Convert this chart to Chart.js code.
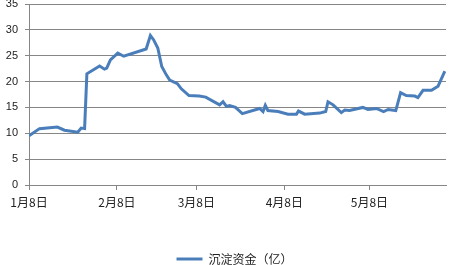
<!DOCTYPE html>
<html>
<head>
<meta charset="utf-8">
<script src="https://cdn.jsdelivr.net/npm/chart.js@4"></script>
<style>
html,body{margin:0;padding:0;background:#fff;}
#wrap{width:463px;height:265px;position:relative;}
</style>
</head>
<body>
<div id="wrap"><canvas id="c"></canvas></div>
<script>
// Day offsets from Jan 8 and values (亿)
const days = [0,3.7,10,12.5,17.2,18.4,19.6,20.4,24.9,26.6,27.4,28.7,31.3,33.4,41.3,42.8,43.9,45.4,46.8,48.4,49.6,52.3,53.7,56.4,60,62.3,67.2,68.4,69.6,70.7,72.8,75.2,81.3,82.5,83.3,84.2,87.8,91.3,94.3,95,97.2,102.5,104.6,105.4,107.2,110.1,111.3,113,117.7,119.5,122.5,125,126.6,129.3,131,133,136,137.1,138.9,141.9,144.2,146.6];
const values = [9.5,10.9,11.2,10.6,10.2,11.0,10.9,21.5,23.0,22.4,22.6,24.2,25.5,24.9,26.3,28.9,28.1,26.5,22.9,21.3,20.3,19.6,18.6,17.3,17.2,17.0,15.5,16.1,15.2,15.35,15.0,13.8,14.8,14.2,15.4,14.4,14.2,13.7,13.7,14.3,13.7,13.9,14.2,16.1,15.5,14.0,14.5,14.4,15.0,14.6,14.8,14.2,14.6,14.4,17.85,17.3,17.2,16.9,18.3,18.3,19.1,22.0];
const tickDays = [0,31,59,90,120];
const tickLabels = ['1月8日','2月8日','3月8日','4月8日','5月8日'];
const seriesName = '沉淀资金（亿）';

const points = days.map((d,i)=>({x:d,y:values[i]}));
const gridColor = '#868686';
const cjk = '"Noto Sans CJK SC", "Noto Sans", sans-serif';

const legendShift = {
  id: 'legendShift',
  afterLayout(chart) {
    const l = chart.legend;
    if (l) { l.left -= 3; l.right -= 3; }
  }
};

new Chart(document.getElementById('c'), {
  type: 'line',
  data: {
    datasets: [{
      label: seriesName,
      data: points,
      borderColor: '#4a7ebb',
      backgroundColor: '#4a7ebb',
      borderWidth: 3,
      pointRadius: 0,
      pointStyle: 'line',
      tension: 0,
      fill: false
    }]
  },
  plugins: [legendShift],
  options: {
    responsive: true,
    maintainAspectRatio: false,
    animation: false,
    devicePixelRatio: 1,
    layout: { padding: { left: 0, right: 17, top: 4, bottom: -10 } },
    plugins: {
      tooltip: { enabled: false },
      legend: {
        position: 'bottom',
        fullSize: false,
        labels: {
          usePointStyle: true,
          pointStyleWidth: 26,
          boxWidth: 26,
          padding: 2,
          color: '#222',
          font: { family: cjk, size: 12 }
        }
      }
    },
    scales: {
      x: {
        type: 'linear',
        min: 0,
        max: 147,
        afterFit: (s) => { s.height = 66; s.paddingLeft = 0; s.paddingRight = 0; },
        afterBuildTicks: (s) => { s.ticks = tickDays.map(v => ({ value: v })); },
        grid: { drawOnChartArea: false, drawTicks: true, tickLength: 5, color: gridColor },
        border: { color: gridColor },
        ticks: {
          autoSkip: false,
          maxRotation: 0,
          padding: 5,
          color: '#222',
          font: { family: cjk, size: 12 },
          callback: (v) => { const i = tickDays.indexOf(v); return i >= 0 ? tickLabels[i] : ''; }
        }
      },
      y: {
        min: 0,
        max: 35,
        afterFit: (s) => { s.width = 29; s.paddingTop = 0; s.paddingBottom = 0; },
        grid: { color: gridColor, tickLength: 4 },
        border: { color: gridColor },
        ticks: {
          stepSize: 5,
          padding: 7,
          color: '#222',
          font: { family: '"Liberation Sans", Arial, sans-serif', size: 11 }
        }
      }
    }
  }
});
</script>
</body>
</html>
